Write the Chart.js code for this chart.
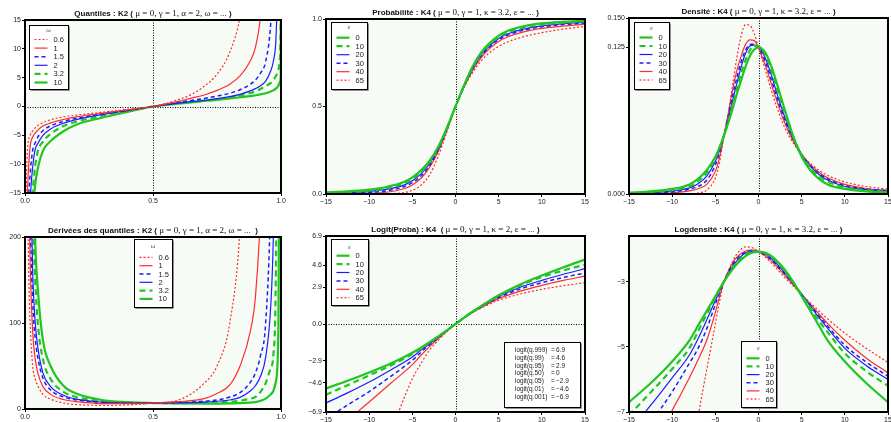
<!DOCTYPE html>
<html lang="fr">
<head>
<meta charset="utf-8">
<title>Lois K2 et K4</title>
<script src="https://cdn.jsdelivr.net/npm/chart.js@4.4.1/dist/chart.umd.min.js"></script>
<style>
  html, body { margin: 0; padding: 0; background: #fff; width: 891px; height: 422px; overflow: hidden; position: relative; }
  canvas { position: absolute; display: block; }
</style>
</head>
<body>
<canvas id="quant"></canvas>
<canvas id="prob"></canvas>
<canvas id="dens"></canvas>
<canvas id="deriv"></canvas>
<canvas id="logit"></canvas>
<canvas id="logdens"></canvas>
<script>
// ---------------- series labels ----------------
const omegaLabels = ['0.6', '1', '1.5', '2', '3.2', '10'];
const epsLabels = ['0', '10', '20', '30', '40', '65'];

// ---------------- K2 quantiles (alpha = 2) ----------------
const pQuant = [0.001, 0.003, 0.005, 0.01, 0.02, 0.03, 0.04, 0.05, 0.07, 0.1, 0.15, 0.2, 0.3, 0.4, 0.5,
                0.6, 0.65, 0.7, 0.75, 0.8, 0.84, 0.88, 0.9, 0.92, 0.94, 0.96, 0.97, 0.98, 0.99, 0.995, 0.999, 0.9999];
const quantW06 = [-32, -17.5, -13, -7.3, -5.0, -4.2, -3.7, -3.3, -2.8, -2.3, -1.8, -1.5, -1.0, -0.5, 0,
                  1.2, 2.1, 3.5, 5.6, 9.4, 15.5, 28, null, null, null, null, null, null, null, null, null, null];
const quantW1 = [-45, -28, -21, -14.2, -7.0, -5.3, -4.6, -4.1, -3.4, -2.85, -2.25, -1.8, -1.15, -0.6, 0,
                 0.9, 1.45, 2.0, 2.8, 3.85, 5.3, 7.9, 10.2, 15.5, 27, null, null, null, null, null, null, null];
const quantW15 = [-60, -35, -27, -19.5, -11.8, -7.6, -6.3, -5.3, -4.2, -3.35, -2.6, -2.05, -1.3, -0.65, 0,
                  0.75, 1.05, 1.4, 1.8, 2.3, 2.9, 3.85, 4.6, 5.8, 7.8, 14.5, 24, null, null, null, null, null];
const quantW2 = [-70, -42, -33, -24, -16, -10.5, -7.4, -6.4, -5.0, -3.9, -2.9, -2.27, -1.4, -0.7, 0,
                 0.6, 0.85, 1.05, 1.35, 1.7, 2.1, 2.7, 3.1, 3.6, 4.4, 6.2, 7.8, 11.5, 25, null, null, null];
const quantW32 = [-90, -52, -41, -30, -20, -14.6, -10.2, -7.8, -6.1, -4.75, -3.4, -2.65, -1.6, -0.8, 0,
                  0.6, 0.8, 1.0, 1.2, 1.55, 1.9, 2.35, 2.6, 3.05, 3.55, 4.1, 4.6, 5.3, 6.3, 8.0, 18, 40];
const quantW10 = [-120, -65, -50, -36, -24, -18, -13.5, -10.8, -7.7, -6.0, -4.3, -3.15, -1.95, -0.95, 0,
                  0.5, 0.72, 0.95, 1.15, 1.4, 1.6, 1.8, 1.95, 2.1, 2.3, 2.6, 2.8, 3.1, 3.6, 4.2, 5.4, 20];

// ---------------- K2 quantile derivatives ----------------
const pDeriv = [0.002, 0.005, 0.01, 0.015, 0.02, 0.03, 0.04, 0.05, 0.07, 0.1, 0.15, 0.2, 0.3, 0.4, 0.5,
                0.6, 0.7, 0.75, 0.8, 0.84, 0.88, 0.9, 0.92, 0.94, 0.96, 0.97, 0.98, 0.99, 0.995, 0.999];
const derivW06 = [900, 500, 260, 150, 100, 50, 35, 27, 17, 11.5, 7, 5.2, 4.2, 4.8, 6.8,
                  10.5, 30, 50, 100, 210, 500, null, null, null, null, null, null, null, null, null];
const derivW1 = [1400, 700, 380, 250, 170, 90, 58, 42, 26, 17, 11, 8.5, 6.3, 6.2, 7,
                 8.5, 12, 18, 28, 50, 90, 130, 230, 450, null, null, null, null, null, null];
const derivW15 = [2000, 1000, 520, 350, 230, 125, 82, 60, 36, 22, 14, 10.5, 7.5, 6.8, 7,
                  7.6, 9, 10.5, 14, 19, 31, 42, 62, 100, 250, 450, null, null, null, null];
const derivW2 = [2500, 1300, 650, 430, 300, 160, 100, 72, 42, 26, 16, 11.5, 8, 7, 7,
                 7.2, 8, 9, 10.5, 13.5, 21, 27, 38, 60, 120, 200, 400, null, null, null];
const derivW32 = [4000, 1900, 950, 620, 430, 240, 150, 100, 58, 35, 20, 14, 9, 7.3, 6.8,
                  6.8, 7.2, 7.7, 8.5, 9.6, 12, 14, 20, 30, 48, 62, 160, 600, null, null];
const derivW10 = [6000, 2800, 1400, 900, 650, 350, 195, 140, 80, 50, 27, 18, 10.5, 8, 7,
                  6.5, 6.3, 6.3, 6.5, 6.8, 7.5, 8, 9.5, 12, 17, 21, 32, 95, 400, null];

// ---------------- K4 distribution function (kappa = 3.2) ----------------
const xProb = [-15, -12.5, -10, -8, -6, -5, -4, -3, -2, -1, 0, 1, 2, 3, 4, 5, 6, 8, 10, 12.5, 15];
const probE0  = [0.01, 0.015, 0.025, 0.04, 0.068, 0.095, 0.135, 0.19, 0.27, 0.378, 0.5, 0.622, 0.73, 0.81, 0.865, 0.905, 0.932, 0.96, 0.975, 0.984, 0.99];
const probE10 = [0.007, 0.011, 0.019, 0.033, 0.06, 0.086, 0.125, 0.182, 0.264, 0.375, 0.5, 0.62, 0.725, 0.803, 0.857, 0.897, 0.923, 0.952, 0.968, 0.979, 0.986];
const probE20 = [0.005, 0.008, 0.014, 0.026, 0.051, 0.076, 0.115, 0.173, 0.258, 0.372, 0.5, 0.618, 0.72, 0.796, 0.85, 0.889, 0.914, 0.944, 0.961, 0.973, 0.981];
const probE30 = [0.003, 0.005, 0.009, 0.018, 0.041, 0.065, 0.103, 0.163, 0.25, 0.368, 0.5, 0.616, 0.715, 0.79, 0.843, 0.882, 0.907, 0.937, 0.955, 0.968, 0.977];
const probE40 = [0.001, 0.002, 0.004, 0.01, 0.03, 0.052, 0.09, 0.152, 0.243, 0.364, 0.5, 0.613, 0.708, 0.781, 0.834, 0.872, 0.897, 0.928, 0.946, 0.96, 0.97];
const probE65 = [0, 0, 0, 0.001, 0.008, 0.021, 0.05, 0.11, 0.215, 0.355, 0.5, 0.61, 0.695, 0.762, 0.81, 0.843, 0.868, 0.9, 0.922, 0.942, 0.958];

// ---------------- K4 density and log-density (kappa = 3.2) ----------------
const xDens = [-15, -12.5, -10, -8, -7, -6, -5, -4.5, -4, -3.5, -3, -2.5, -2, -1.5, -1, -0.5, 0,
               0.5, 1, 1.5, 2, 3, 4, 5, 6, 7, 8, 10, 12.5, 15];
const densE0  = [0.0012, 0.0022, 0.0043, 0.0082, 0.0129, 0.0202, 0.0317, 0.04, 0.0498, 0.0608, 0.0728, 0.0854, 0.0973, 0.1086, 0.1177, 0.1231, 0.1249,
                 0.1231, 0.1177, 0.1086, 0.0973, 0.0728, 0.0498, 0.0317, 0.0202, 0.0129, 0.0082, 0.0043, 0.0022, 0.0012];
const densE10 = [0.0008, 0.0017, 0.0034, 0.0065, 0.0108, 0.0183, 0.0302, 0.0392, 0.0498, 0.062, 0.0758, 0.0898, 0.1033, 0.1142, 0.1225, 0.1262, 0.1256,
                 0.1225, 0.1153, 0.1054, 0.0935, 0.0699, 0.0488, 0.0334, 0.0224, 0.015, 0.0106, 0.0055, 0.0032, 0.002];
const densE20 = [0.0005, 0.0011, 0.0026, 0.0052, 0.0087, 0.0153, 0.0279, 0.0376, 0.0498, 0.0639, 0.0797, 0.0944, 0.1086, 0.12, 0.1262, 0.1269, 0.1256,
                 0.1206, 0.1119, 0.1013, 0.0889, 0.0665, 0.0478, 0.0337, 0.0235, 0.0166, 0.0119, 0.0064, 0.0038, 0.0025];
const densE30 = [0.0003, 0.0006, 0.0017, 0.0041, 0.0064, 0.0117, 0.0247, 0.0358, 0.0498, 0.0659, 0.0837, 0.0993, 0.113, 0.1225, 0.1275, 0.1278, 0.1249,
                 0.1182, 0.1086, 0.0973, 0.0854, 0.0639, 0.0469, 0.0337, 0.0242, 0.0174, 0.0128, 0.0071, 0.0042, 0.0027];
const densE40 = [0.0001, 0.0003, 0.001, 0.0026, 0.0045, 0.0082, 0.0193, 0.0317, 0.0498, 0.0686, 0.0889, 0.1054, 0.1177, 0.1275, 0.1313, 0.1307, 0.1249,
                 0.1153, 0.1054, 0.0935, 0.0821, 0.0614, 0.0455, 0.0337, 0.025, 0.0185, 0.0138, 0.0082, 0.0047, 0.003];
const densE65 = [0, 0, 0, 0.0002, 0.0008, 0.0033, 0.0136, 0.0273, 0.0498, 0.0686, 0.0926, 0.1165, 0.1353, 0.1444, 0.1437, 0.1367, 0.1249,
                 0.113, 0.1003, 0.088, 0.0765, 0.0573, 0.0437, 0.0334, 0.026, 0.0202, 0.0159, 0.0103, 0.0064, 0.0042];

const logE0  = [-6.7, -6.12, -5.45, -4.8, -4.35, -3.9, -3.45, -3.22, -3.0, -2.8, -2.62, -2.46, -2.33, -2.22, -2.14, -2.095, -2.08,
                -2.095, -2.14, -2.22, -2.33, -2.62, -3.0, -3.45, -3.9, -4.35, -4.8, -5.45, -6.12, -6.7];
const logE10 = [-7.1, -6.4, -5.68, -5.04, -4.53, -4.0, -3.5, -3.24, -3.0, -2.78, -2.58, -2.41, -2.27, -2.17, -2.1, -2.07, -2.075,
                -2.1, -2.16, -2.25, -2.37, -2.66, -3.02, -3.4, -3.8, -4.2, -4.55, -5.2, -5.75, -6.2];
const logE20 = [-7.6, -6.8, -5.95, -5.25, -4.75, -4.18, -3.58, -3.28, -3.0, -2.75, -2.53, -2.36, -2.22, -2.12, -2.07, -2.064, -2.075,
                -2.115, -2.19, -2.29, -2.42, -2.71, -3.04, -3.39, -3.75, -4.1, -4.43, -5.05, -5.58, -6.0];
const logE30 = [-8.3, -7.35, -6.38, -5.5, -5.05, -4.45, -3.7, -3.33, -3.0, -2.72, -2.48, -2.31, -2.18, -2.1, -2.06, -2.057, -2.08,
                -2.135, -2.22, -2.33, -2.46, -2.75, -3.06, -3.39, -3.72, -4.05, -4.36, -4.95, -5.47, -5.9];
const logE40 = [-9.3, -8.1, -6.95, -5.95, -5.4, -4.8, -3.95, -3.45, -3.0, -2.68, -2.42, -2.25, -2.14, -2.06, -2.03, -2.035, -2.08,
                -2.16, -2.25, -2.37, -2.5, -2.79, -3.09, -3.39, -3.69, -3.99, -4.28, -4.8, -5.35, -5.8];
const logE65 = [-25, -19, -12.5, -8.8, -7.15, -5.7, -4.3, -3.6, -3.0, -2.68, -2.38, -2.15, -2.0, -1.935, -1.94, -1.99, -2.08,
                -2.18, -2.3, -2.43, -2.57, -2.86, -3.13, -3.4, -3.65, -3.9, -4.14, -4.58, -5.05, -5.48];

// ---------------- K4 logit of the distribution function (kappa = 2) ----------------
const xLogit = [-15, -12.5, -10, -7.5, -5, -4, -3, -2, -1, 0, 1, 2, 3, 4, 5, 7.5, 10, 12.5, 15];
const logitE0  = [-5.05, -4.45, -3.8, -3.1, -2.26, -1.85, -1.42, -0.98, -0.5, 0, 0.5, 0.98, 1.42, 1.85, 2.26, 3.1, 3.8, 4.45, 5.05];
const logitE10 = [-5.54, -4.8, -4.03, -3.25, -2.36, -1.92, -1.46, -0.99, -0.5, 0, 0.5, 0.97, 1.4, 1.82, 2.22, 3.02, 3.69, 4.2, 4.65];
const logitE20 = [-6.19, -5.4, -4.55, -3.6, -2.59, -2.05, -1.55, -1.04, -0.52, 0, 0.5, 0.96, 1.38, 1.78, 2.15, 2.88, 3.42, 3.9, 4.34];
const logitE30 = [-7.45, -6.35, -5.3, -4.1, -2.85, -2.22, -1.63, -1.08, -0.53, 0, 0.5, 0.95, 1.35, 1.73, 2.07, 2.75, 3.24, 3.65, 4.0];
const logitE40 = [-9.0, -7.55, -6.12, -4.65, -3.19, -2.45, -1.77, -1.14, -0.55, 0, 0.49, 0.93, 1.31, 1.66, 1.99, 2.58, 3.03, 3.42, 3.76];
const logitE65 = [-23, -18, -13, -8.5, -4.29, -3.1, -2.05, -1.28, -0.6, 0, 0.48, 0.9, 1.26, 1.57, 1.86, 2.35, 2.72, 3.0, 3.24];

// reference quantiles written in the logit panel
const noteLabels = ['logit(q.999)', 'logit(q.99)', 'logit(q.95)', 'logit(q.50)', 'logit(q.05)', 'logit(q.01)', 'logit(q.001)'];
const noteValues = ['6.9', '4.6', '2.9', '0', '\u22122.9', '\u22124.6', '\u22126.9'];

// ---------------- tick values ----------------
const unitTicks = [0, 0.5, 1];
const quantTicks = [-15, -10, -5, 0, 5, 10, 15];
const xTicks15 = [-15, -10, -5, 0, 5, 10, 15];
const densTicks = [0, 0.125, 0.15];
const derivTicks = [0, 100, 200];
const logitTicks = [-6.9, -4.6, -2.9, 0, 2.9, 4.6, 6.9];
const logDensTicks = [-7, -5, -3];

// ---------------- styles ----------------
const RED = '#ff2b2b', BLUE = '#1c1cff', GREEN = '#22c422';
const omegaStyles = [
  {color: RED, width: 1.2, dash: [2, 2]},
  {color: RED, width: 1.2, dash: []},
  {color: BLUE, width: 1.5, dash: [4, 3]},
  {color: BLUE, width: 1.2, dash: []},
  {color: GREEN, width: 2.2, dash: [6, 4]},
  {color: GREEN, width: 2.2, dash: []}
];
const epsStyles = [
  {color: GREEN, width: 2.2, dash: []},
  {color: GREEN, width: 2.2, dash: [6, 4]},
  {color: BLUE, width: 1.2, dash: []},
  {color: BLUE, width: 1.5, dash: [4, 3]},
  {color: RED, width: 1.2, dash: []},
  {color: RED, width: 1.2, dash: [2, 2]}
];
const PLOT_BG = '#f6fbf6';
const SANS = '"Liberation Sans", Arial, sans-serif';
const SERIF = '"Liberation Serif", "Times New Roman", serif';
const TITLE_BOLD = 'bold 8px ' + SANS;
const TITLE_SERIF = '9px ' + SERIF;

const fmtInt = v => String(v).replace('-', '\u2212');
const fmt1 = v => v.toFixed(1).replace('-', '\u2212');
const fmt3 = v => v.toFixed(3);

// ---------------- helpers ----------------
function buildSeries(xs, ys, labels, styles) {
  return labels.map((label, i) => ({
    label,
    data: xs.map((x, j) => ({x, y: ys[i][j]})),
    borderColor: styles[i].color,
    borderWidth: styles[i].width,
    borderDash: styles[i].dash,
    pointRadius: 0,
    fill: false,
    cubicInterpolationMode: 'monotone'
  }));
}

function axisOptions(a, fit) {
  return {
    type: 'linear', min: a.min, max: a.max,
    afterBuildTicks: s => { s.ticks = a.ticks.map(v => ({value: v})); },
    afterFit: fit,
    grid: {display: true, drawOnChartArea: false, drawTicks: true, tickLength: 3, color: '#000', lineWidth: 1},
    border: {display: false},
    ticks: {autoSkip: false, maxRotation: 0, minRotation: 0, padding: 1, color: '#1a1a1a',
            font: {family: SANS, size: 7}, callback: v => a.fmt(v)}
  };
}

const decorCfg = {};

function hline(ctx, x1, y1, x2, y2) {
  ctx.beginPath(); ctx.moveTo(x1, y1); ctx.lineTo(x2, y2); ctx.stroke();
}

function shadowBox(ctx, x, y, w, h) {
  ctx.fillStyle = '#fff';
  ctx.fillRect(x, y, w, h);
  ctx.setLineDash([]);
  ctx.strokeStyle = '#909090';
  ctx.lineWidth = 1;
  ctx.beginPath();
  ctx.moveTo(x + w + 1.5, y + 1.5); ctx.lineTo(x + w + 1.5, y + h + 1.5); ctx.lineTo(x + 1.5, y + h + 1.5);
  ctx.stroke();
  ctx.strokeStyle = '#000';
  ctx.strokeRect(x + 0.5, y + 0.5, w, h);
}

// plot background, dotted reference lines, frame, mixed-font title, legend and note box
const decor = {
  id: 'decor',
  beforeDraw(chart) {
    const {ctx, chartArea: a} = chart;
    ctx.save();
    ctx.fillStyle = PLOT_BG;
    ctx.fillRect(a.left, a.top, a.right - a.left, a.bottom - a.top);
    ctx.restore();
  },
  beforeDatasetsDraw(chart) {
    const o = decorCfg[chart.canvas.id];
    const {ctx, chartArea: a, scales} = chart;
    ctx.save();
    ctx.strokeStyle = '#000';
    ctx.lineWidth = 1;
    ctx.setLineDash([1, 1.5]);
    o.vLines.forEach(v => {
      const px = Math.round(scales.x.getPixelForValue(v)) + 0.5;
      hline(ctx, px, a.top, px, a.bottom);
    });
    o.hLines.forEach(v => {
      const py = Math.round(scales.y.getPixelForValue(v)) + 0.5;
      hline(ctx, a.left, py, a.right, py);
    });
    ctx.restore();
  },
  afterDraw(chart) {
    const o = decorCfg[chart.canvas.id];
    const {ctx, chartArea: a} = chart;
    const [ox, oy] = o.origin;
    ctx.save();
    // frame
    ctx.setLineDash([]);
    ctx.strokeStyle = '#000';
    ctx.lineWidth = 2;
    ctx.strokeRect(a.left, a.top, a.right - a.left, a.bottom - a.top);

    // title
    let total = 0;
    o.title.forEach(([txt, f]) => { ctx.font = f; total += ctx.measureText(txt).width; });
    let tx = (a.left + a.right) / 2 - total / 2;
    ctx.textBaseline = 'alphabetic';
    ctx.textAlign = 'left';
    ctx.fillStyle = '#111';
    o.title.forEach(([txt, f]) => {
      ctx.font = f;
      ctx.fillText(txt, tx, a.top - 4.5);
      tx += ctx.measureText(txt).width;
    });

    // legend
    const L = o.legend;
    const bx = L.x - ox, by = L.y - oy;
    shadowBox(ctx, bx, by, L.w, L.h);
    ctx.fillStyle = '#555';
    ctx.font = '7px ' + SERIF;
    ctx.textAlign = 'center';
    ctx.textBaseline = 'middle';
    ctx.fillText(L.title, bx + L.w / 2, by + L.t);
    chart.data.datasets.forEach((ds, i) => {
      const ry = by + L.r0 + i * L.step;
      ctx.strokeStyle = ds.borderColor;
      ctx.lineWidth = ds.borderWidth;
      ctx.setLineDash(ds.borderDash);
      hline(ctx, bx + 5.5, ry, bx + 18.5, ry);
      ctx.setLineDash([]);
      ctx.fillStyle = '#222';
      ctx.font = '7.5px ' + SANS;
      ctx.textAlign = 'left';
      ctx.fillText(ds.label, bx + 24.5, ry + 0.5);
    });

    // note box
    if (o.note) {
      const N = o.note;
      const nx = N.x - ox, ny = N.y - oy;
      shadowBox(ctx, nx, ny, N.w, N.h);
      ctx.fillStyle = '#222';
      ctx.font = '6.5px ' + SANS;
      ctx.textBaseline = 'middle';
      ctx.textAlign = 'left';
      noteLabels.forEach((lab, i) => {
        const ly = ny + N.r0 + i * N.step;
        ctx.fillText(lab, nx + N.c1, ly);
        ctx.fillText('=', nx + N.c2, ly);
        ctx.fillText(noteValues[i], nx + N.c3, ly);
      });
    }
    ctx.restore();
  }
};

const PAD_L = 40, PAD_T = 22, PAD_R = 10, PAD_B = 14;

function makePanel(p) {
  const [l, t, r, b] = p.box;
  const cv = document.getElementById(p.id);
  const ox = l - PAD_L, oy = t - PAD_T;
  cv.width = r - l + PAD_L + PAD_R;
  cv.height = b - t + PAD_T + PAD_B;
  cv.style.left = ox + 'px';
  cv.style.top = oy + 'px';
  decorCfg[p.id] = {origin: [ox, oy], title: p.title, vLines: p.vLines, hLines: p.hLines, legend: p.legend, note: p.note};
  new Chart(cv, {
    type: 'line',
    data: {datasets: buildSeries(p.xs, p.ys, p.labels, p.styles)},
    options: {
      responsive: false, maintainAspectRatio: false, animation: false, devicePixelRatio: 1, events: [],
      layout: {padding: {left: 0, top: PAD_T, right: PAD_R, bottom: 0}},
      plugins: {legend: {display: false}, tooltip: {enabled: false}, title: {display: false}},
      scales: {
        x: axisOptions(p.x, s => { s.height = PAD_B; }),
        y: axisOptions(p.y, s => { s.width = PAD_L; })
      }
    },
    plugins: [decor]
  });
}

const panels = [
  {
    id: 'quant', box: [25, 20, 281, 193],
    xs: pQuant, ys: [quantW06, quantW1, quantW15, quantW2, quantW32, quantW10],
    labels: omegaLabels, styles: omegaStyles,
    x: {min: 0, max: 1, ticks: unitTicks, fmt: fmt1},
    y: {min: -15, max: 15, ticks: quantTicks, fmt: fmtInt},
    title: [['Quantiles : K2 (', TITLE_BOLD], [' \u03bc = 0, \u03b3 = 1, \u03b1 = 2, \u03c9 = ... ', TITLE_SERIF], [')', TITLE_BOLD]],
    vLines: [0.5], hLines: [0],
    legend: {x: 29, y: 25, w: 39, h: 64, title: '\u03c9', t: 5.5, r0: 14.5, step: 8.6}
  },
  {
    id: 'prob', box: [326, 19, 585, 194],
    xs: xProb, ys: [probE0, probE10, probE20, probE30, probE40, probE65],
    labels: epsLabels, styles: epsStyles,
    x: {min: -15, max: 15, ticks: xTicks15, fmt: fmtInt},
    y: {min: 0, max: 1, ticks: unitTicks, fmt: fmt1},
    title: [['Probabilit\u00e9 : K4 (', TITLE_BOLD], [' \u03bc = 0, \u03b3 = 1, \u03ba = 3.2, \u03b5 = ... ', TITLE_SERIF], [')', TITLE_BOLD]],
    vLines: [0], hLines: [],
    legend: {x: 331, y: 22, w: 36, h: 67, title: '\u03b5', t: 5.5, r0: 15.7, step: 8.5}
  },
  {
    id: 'dens', box: [629, 18, 888, 194],
    xs: xDens, ys: [densE0, densE10, densE20, densE30, densE40, densE65],
    labels: epsLabels, styles: epsStyles,
    x: {min: -15, max: 15, ticks: xTicks15, fmt: fmtInt},
    y: {min: 0, max: 0.15, ticks: densTicks, fmt: fmt3},
    title: [['Densit\u00e9 : K4 (', TITLE_BOLD], [' \u03bc = 0, \u03b3 = 1, \u03ba = 3.2, \u03b5 = ... ', TITLE_SERIF], [')', TITLE_BOLD]],
    vLines: [0], hLines: [],
    legend: {x: 634, y: 22, w: 35, h: 67, title: '\u03b5', t: 6, r0: 15.5, step: 8.5}
  },
  {
    id: 'deriv', box: [25, 237, 281, 409],
    xs: pDeriv, ys: [derivW06, derivW1, derivW15, derivW2, derivW32, derivW10],
    labels: omegaLabels, styles: omegaStyles,
    x: {min: 0, max: 1, ticks: unitTicks, fmt: fmt1},
    y: {min: 0, max: 200, ticks: derivTicks, fmt: fmtInt},
    title: [['D\u00e9riv\u00e9es des quantiles : K2 (', TITLE_BOLD], [' \u03bc = 0, \u03b3 = 1, \u03b1 = 2, \u03c9 = ...  ', TITLE_SERIF], [')', TITLE_BOLD]],
    vLines: [], hLines: [],
    legend: {x: 134, y: 239, w: 38, h: 68, title: '\u03c9', t: 7.4, r0: 18.4, step: 8.3}
  },
  {
    id: 'logit', box: [326, 236, 585, 412],
    xs: xLogit, ys: [logitE0, logitE10, logitE20, logitE30, logitE40, logitE65],
    labels: epsLabels, styles: epsStyles,
    x: {min: -15, max: 15, ticks: xTicks15, fmt: fmtInt},
    y: {min: -6.9, max: 6.9, ticks: logitTicks, fmt: fmt1},
    title: [['Logit(Proba) : K4  (', TITLE_BOLD], [' \u03bc = 0, \u03b3 = 1, \u03ba = 2, \u03b5 = ... ', TITLE_SERIF], [')', TITLE_BOLD]],
    vLines: [0], hLines: [0],
    legend: {x: 331, y: 239, w: 37, h: 66, title: '\u03b5', t: 7.7, r0: 16.7, step: 8.4},
    note: {x: 504, y: 342, w: 76, h: 65, r0: 8, step: 7.9, c1: 11, c2: 47, c3: 52}
  },
  {
    id: 'logdens', box: [629, 236, 888, 412],
    xs: xDens, ys: [logE0, logE10, logE20, logE30, logE40, logE65],
    labels: epsLabels, styles: epsStyles,
    x: {min: -15, max: 15, ticks: xTicks15, fmt: fmtInt},
    y: {min: -7, max: -1.6, ticks: logDensTicks, fmt: fmtInt},
    title: [['Logdensit\u00e9 : K4 (', TITLE_BOLD], [' \u03bc = 0, \u03b3 = 1, \u03ba = 3.2, \u03b5 = ... ', TITLE_SERIF], [')', TITLE_BOLD]],
    vLines: [0], hLines: [],
    legend: {x: 741, y: 341, w: 35, h: 66, title: '\u03b5', t: 6.7, r0: 17.3, step: 8.15}
  }
];

panels.forEach(makePanel);
</script>
</body>
</html>
